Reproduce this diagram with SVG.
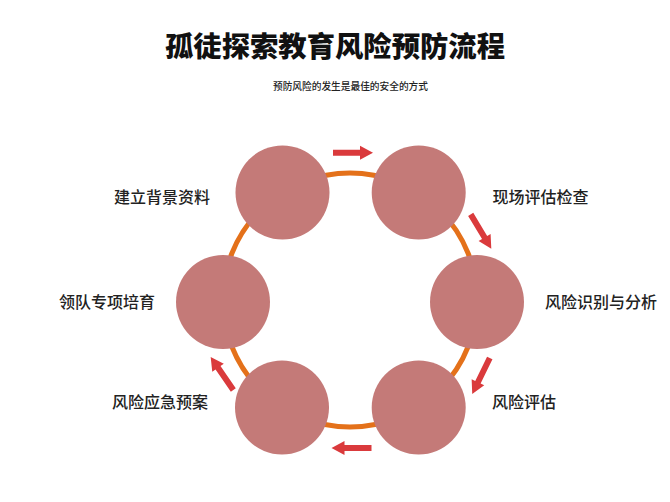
<svg xmlns="http://www.w3.org/2000/svg" xmlns:xlink="http://www.w3.org/1999/xlink" width="670" height="502" viewBox="0 0 670 502">
<style>
.title{font-family:"Noto Sans CJK SC","Noto Sans",sans-serif;font-weight:900;font-size:28.5px;fill:#111}
.sub{font-family:"Noto Sans CJK SC","Noto Sans",sans-serif;font-weight:500;font-size:9.7px;fill:#222}
.lbl{font-family:"Noto Sans CJK SC","Noto Sans",sans-serif;font-weight:500;font-size:16px;fill:#222}
.node{fill:#C47A78}
.ring{fill:none;stroke:#E4711A;stroke-width:5}
.arr{fill:#DA3A3C}
</style>
<defs>
<path id="arrow" d="M-20,-3 L7,-3 L7,-7 L20,0 L7,7 L7,3 L-20,3 Z"/>
</defs>
<rect width="670" height="502" fill="#fff"/>
<text class="title" x="335" y="57" text-anchor="middle" textLength="340" lengthAdjust="spacingAndGlyphs">孤徒探索教育风险预防流程</text>
<text class="sub" x="350.5" y="90" text-anchor="middle" textLength="155" lengthAdjust="spacingAndGlyphs">预防风险的发生是最佳的安全的方式</text>
<g id="connectors">
<circle class="ring" cx="350" cy="300" r="127"/>
<use href="#arrow" class="arr" transform="translate(353,152.7) rotate(0)"/>
<use href="#arrow" class="arr" transform="translate(481,231.5) rotate(59)"/>
<use href="#arrow" class="arr" transform="translate(481,376) rotate(116)"/>
<use href="#arrow" class="arr" transform="translate(351.5,448) rotate(180)"/>
<use href="#arrow" class="arr" transform="translate(222,373.5) rotate(235.5)"/>
</g>
<g id="node-background">
<circle class="node" cx="282.5" cy="192.5" r="47"/>
<text class="lbl" x="162" y="202.5" text-anchor="middle">建立背景资料</text>
</g>
<g id="node-site">
<circle class="node" cx="418.7" cy="192.5" r="47"/>
<text class="lbl" x="540.5" y="202.5" text-anchor="middle">现场评估检查</text>
</g>
<g id="node-identify">
<circle class="node" cx="477" cy="302" r="47"/>
<text class="lbl" x="601" y="308" text-anchor="middle">风险识别与分析</text>
</g>
<g id="node-assess">
<circle class="node" cx="418.7" cy="407.5" r="47"/>
<text class="lbl" x="524" y="407.5" text-anchor="middle">风险评估</text>
</g>
<g id="node-emergency">
<circle class="node" cx="282" cy="407.5" r="47"/>
<text class="lbl" x="160" y="408" text-anchor="middle">风险应急预案</text>
</g>
<g id="node-training">
<circle class="node" cx="223" cy="302" r="47"/>
<text class="lbl" x="107" y="307.5" text-anchor="middle">领队专项培育</text>
</g>
</svg>
